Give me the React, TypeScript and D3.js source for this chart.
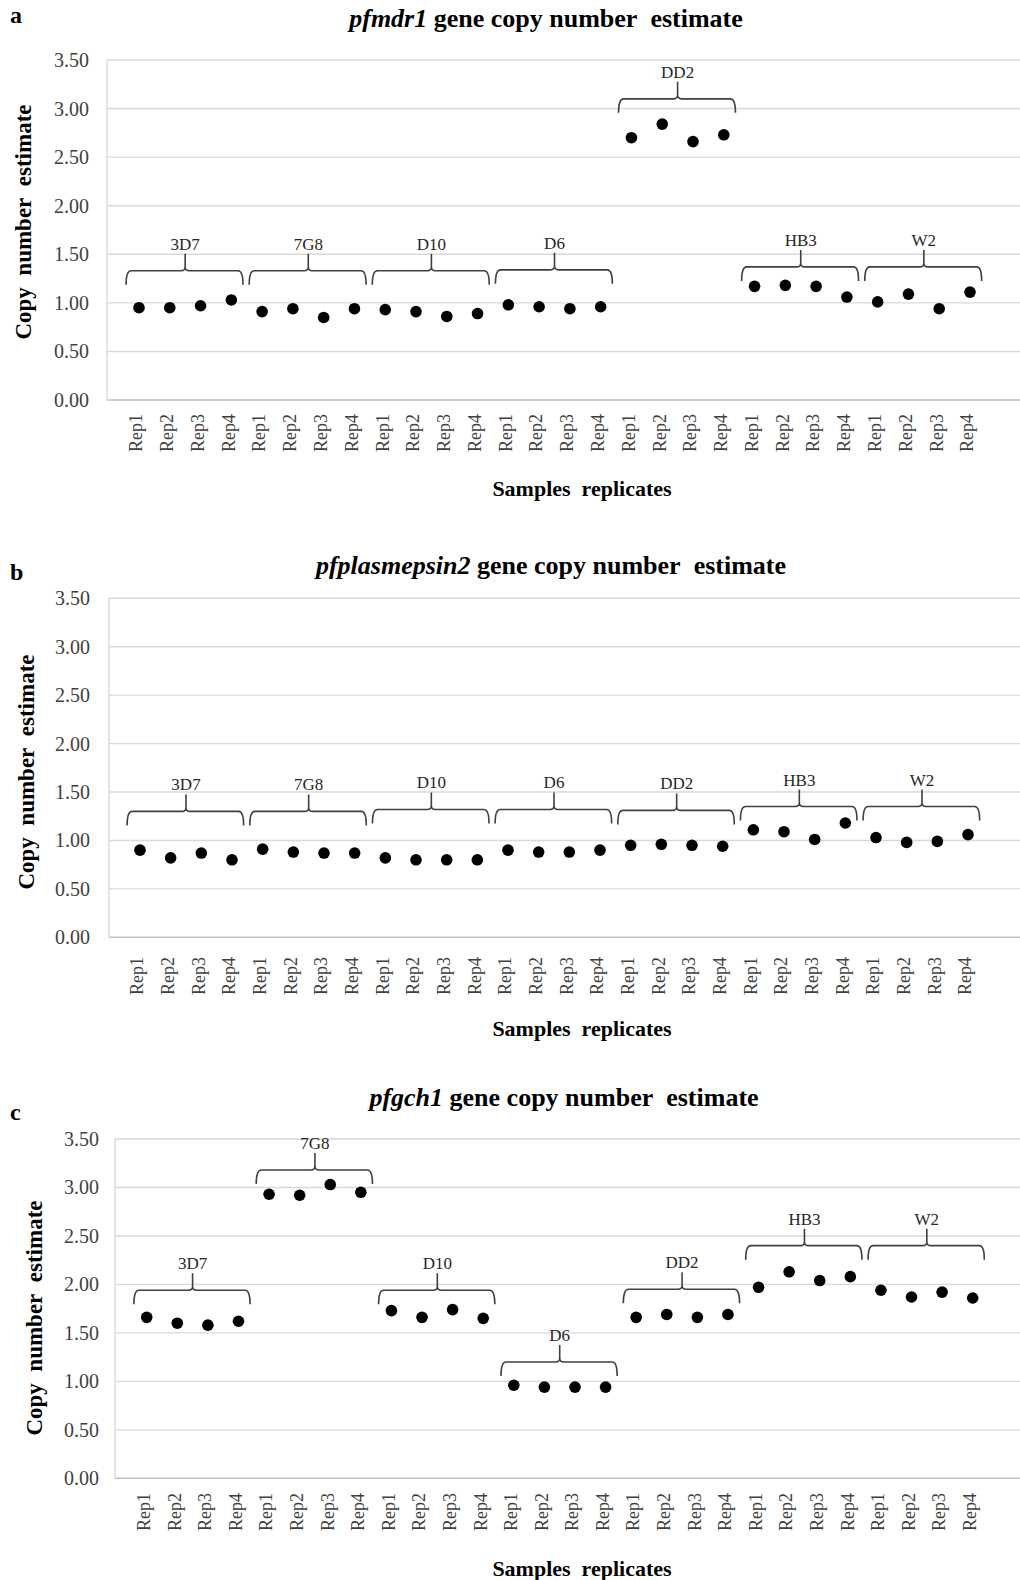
import * as d3 from 'd3';

const strains = ['3D7', '7G8', 'D10', 'D6', 'DD2', 'HB3', 'W2'];
const reps = ['Rep1', 'Rep2', 'Rep3', 'Rep4'];
const yTicks = [0, 0.5, 1, 1.5, 2, 2.5, 3, 3.5];
const categories = strains.flatMap((s) => reps.map((r) => `${s}-${r}`));

// copy number per replicate, strain by strain
const mdr1Values = [
  0.95, 0.95, 0.97, 1.03,
  0.91, 0.94, 0.85, 0.94,
  0.93, 0.91, 0.86, 0.89,
  0.98, 0.96, 0.94, 0.96,
  2.7, 2.84, 2.66, 2.73,
  1.17, 1.18, 1.17, 1.06,
  1.01, 1.09, 0.94, 1.11,
];
const plasmepsin2Values = [
  0.9, 0.82, 0.87, 0.8,
  0.91, 0.88, 0.87, 0.87,
  0.82, 0.8, 0.8, 0.8,
  0.9, 0.88, 0.88, 0.9,
  0.95, 0.96, 0.95, 0.94,
  1.11, 1.09, 1.01, 1.18,
  1.03, 0.98, 0.99, 1.06,
];
const gch1Values = [
  1.66, 1.6, 1.58, 1.62,
  2.93, 2.92, 3.03, 2.95,
  1.73, 1.66, 1.74, 1.65,
  0.96, 0.94, 0.94, 0.94,
  1.66, 1.69, 1.66, 1.69,
  1.97, 2.13, 2.04, 2.08,
  1.94, 1.87, 1.92, 1.86,
];

// height of each strain's bracket
const mdr1Brackets = [1.33, 1.33, 1.33, 1.34, 3.1, 1.37, 1.37];
const plasmepsin2Brackets = [1.3, 1.3, 1.32, 1.32, 1.31, 1.35, 1.35];
const gch1Brackets = [1.94, 3.18, 1.94, 1.2, 1.95, 2.4, 2.4];

const serif = '"Liberation Serif", "Times New Roman", serif';

const panels = [
  { letter: 'a', gene: 'pfmdr1', values: mdr1Values, brackets: mdr1Brackets,
    top: 60, bottom: 400, axisX: 107, xStart: 139, xEnd: 970, tickRight: 89,
    titleX: 546, titleY: 27, letterY: 23, yTitleX: 31, yTitleY: 222, xTitleY: 496, repY: 414 },
  { letter: 'b', gene: 'pfplasmepsin2', values: plasmepsin2Values, brackets: plasmepsin2Brackets,
    top: 598.3, bottom: 937.3, axisX: 109, xStart: 140, xEnd: 968, tickRight: 90,
    titleX: 551, titleY: 574, letterY: 580, yTitleX: 34, yTitleY: 772, xTitleY: 1036, repY: 957 },
  { letter: 'c', gene: 'pfgch1', values: gch1Values, brackets: gch1Brackets,
    top: 1139, bottom: 1478.3, axisX: 115, xStart: 146.7, xEnd: 972.7, tickRight: 99,
    titleX: 564, titleY: 1106, letterY: 1120, yTitleX: 42, yTitleY: 1318, xTitleY: 1576, repY: 1493 },
];

function Panel({ p }: { p: (typeof panels)[number] }) {
  const y = d3.scaleLinear().domain([0, 3.5]).range([p.bottom, p.top]);
  const x = d3.scalePoint<string>().domain(categories).range([p.xStart, p.xEnd]);
  const step = x.step();

  return (
    <g>
      <text x={10} y={p.letterY} fontFamily={serif} fontWeight="bold" fontSize={24}>
        {p.letter}
      </text>
      <text x={p.titleX} y={p.titleY} textAnchor="middle" fontFamily={serif} fontWeight="bold" fontSize={26}>
        <tspan fontStyle="italic">{p.gene}</tspan>
        {' gene copy number\u00a0 estimate'}
      </text>

      {yTicks.map((t) => (
        <g key={t}>
          <line x1={p.axisX} x2={1020} y1={y(t)} y2={y(t)}
            stroke={t === 0 ? '#bfbfbf' : '#d9d9d9'} strokeWidth={1.4} />
          <text x={p.tickRight} y={y(t)} dy="0.35em" textAnchor="end"
            fontFamily={serif} fontSize={20} fill="#404040">
            {t.toFixed(2)}
          </text>
        </g>
      ))}
      <line x1={p.axisX} x2={p.axisX} y1={y(3.5)} y2={y(0)} stroke="#d9d9d9" strokeWidth={1.4} />

      {categories.map((c, i) => (
        <text key={c} transform={`translate(${x(c)! - 3},${p.repY}) rotate(-90)`}
          dy="0.35em" textAnchor="end" fontFamily={serif} fontSize={18} fill="#404040">
          {reps[i % 4]}
        </text>
      ))}

      {strains.map((s, gi) => {
        const x0 = x(`${s}-Rep1`)!;
        const x1 = x(`${s}-Rep4`)!;
        const xc = (x0 + x1) / 2;
        const left = x0 - 0.42 * step;
        const right = x1 + 0.38 * step;
        const yb = y(p.brackets[gi]);
        const d = `M${left},${yb + 14} Q${left},${yb} ${left + 5},${yb} L${xc - 4},${yb} Q${xc},${yb} ${xc},${yb - 4} L${xc},${yb - 17} M${xc},${yb - 4} Q${xc},${yb} ${xc + 4},${yb} L${right - 5},${yb} Q${right},${yb} ${right},${yb + 14}`;
        return (
          <g key={s}>
            <path d={d} fill="none" stroke="#404040" strokeWidth={1.6} />
            <text x={xc} y={yb - 21} textAnchor="middle" fontFamily={serif} fontSize={17} fill="#262626">
              {s}
            </text>
          </g>
        );
      })}

      {p.values.map((v, i) => (
        <circle key={i} cx={x(categories[i])!} cy={y(v)} r={5.8} fill="#000" />
      ))}

      <text transform={`translate(${p.yTitleX},${p.yTitleY}) rotate(-90)`} textAnchor="middle"
        fontFamily={serif} fontWeight="bold" fontSize={23}>
        {'Copy\u00a0 number\u00a0 estimate'}
      </text>
      <text x={582} y={p.xTitleY} textAnchor="middle" fontFamily={serif} fontWeight="bold" fontSize={22}>
        {'Samples\u00a0 replicates'}
      </text>
    </g>
  );
}

export default function App() {
  return (
    <svg width={1020} height={1580} style={{ position: 'absolute', left: 0, top: 0, background: '#fff' }}>
      <rect width={1020} height={1580} fill="#fff" />
      {panels.map((p) => (
        <Panel key={p.letter} p={p} />
      ))}
    </svg>
  );
}
